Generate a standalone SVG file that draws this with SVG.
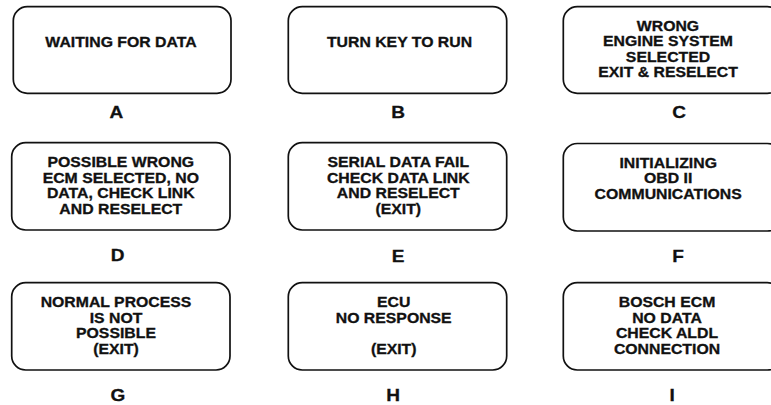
<svg xmlns="http://www.w3.org/2000/svg" width="771" height="405" viewBox="0 0 771 405">
<style>
.box{fill:#fff;stroke:#111;stroke-width:1.7}
.t{font-family:"Liberation Sans",Arial,sans-serif;font-weight:bold;font-size:14px;fill:#111;stroke:#111;stroke-width:0.3;text-anchor:middle}
.lbl{font-family:"Liberation Sans",Arial,sans-serif;font-weight:bold;font-size:17px;fill:#111;stroke:#111;stroke-width:0.3;text-anchor:middle}
</style>
<rect width="771" height="405" fill="#fff"/>
<g id="node-A">
<rect class="box" x="13.3" y="6.7" width="217.7" height="86.6" rx="14"/>
<text class="t" transform="matrix(1.13,0,0,1,121,0)"><tspan x="0" y="46.7">WAITING FOR DATA</tspan></text>
<text class="lbl" transform="matrix(1.12,0,0,1,116.3,0)" x="0" y="118.3">A</text>
</g>
<g id="node-B">
<rect class="box" x="288.3" y="6.7" width="218.4" height="86.6" rx="14"/>
<text class="t" transform="matrix(1.13,0,0,1,399.5,0)"><tspan x="0" y="46.7">TURN KEY TO RUN</tspan></text>
<text class="lbl" transform="matrix(1.12,0,0,1,398,0)" x="0" y="118.3">B</text>
</g>
<g id="node-C">
<rect class="box" x="563.3" y="6.7" width="218" height="86.6" rx="14"/>
<text class="t" transform="matrix(1.13,0,0,1,668,0)"><tspan x="0" y="31">WRONG</tspan><tspan x="0" y="46.5">ENGINE SYSTEM</tspan><tspan x="0" y="62">SELECTED</tspan><tspan x="0" y="77.5">EXIT &amp; RESELECT</tspan></text>
<text class="lbl" transform="matrix(1.12,0,0,1,679,0)" x="0" y="118.3">C</text>
</g>
<g id="node-D">
<rect class="box" x="11.7" y="142.7" width="218.3" height="87.3" rx="14"/>
<text class="t" transform="matrix(1.13,0,0,1,120.8,0)"><tspan x="0" y="167.3">POSSIBLE WRONG</tspan><tspan x="0" y="182.8">ECM SELECTED, NO</tspan><tspan x="0" y="198.3">DATA, CHECK LINK</tspan><tspan x="0" y="214">AND RESELECT</tspan></text>
<text class="lbl" transform="matrix(1.12,0,0,1,117.5,0)" x="0" y="261">D</text>
</g>
<g id="node-E">
<rect class="box" x="288.3" y="142.7" width="218.4" height="87.3" rx="14"/>
<text class="t" transform="matrix(1.13,0,0,1,398.3,0)"><tspan x="0" y="167.3">SERIAL DATA FAIL</tspan><tspan x="0" y="182.8">CHECK DATA LINK</tspan><tspan x="0" y="198.3">AND RESELECT</tspan><tspan x="0" y="214">(EXIT)</tspan></text>
<text class="lbl" transform="matrix(1.12,0,0,1,398,0)" x="0" y="262">E</text>
</g>
<g id="node-F">
<rect class="box" x="563.3" y="143.5" width="218" height="87.5" rx="14"/>
<text class="t" transform="matrix(1.13,0,0,1,668.2,0)"><tspan x="0" y="168.3">INITIALIZING</tspan><tspan x="0" y="183.5">OBD II</tspan><tspan x="0" y="199">COMMUNICATIONS</tspan></text>
<text class="lbl" transform="matrix(1.12,0,0,1,678,0)" x="0" y="262">F</text>
</g>
<g id="node-G">
<rect class="box" x="11.7" y="282.7" width="218.3" height="87.3" rx="14"/>
<text class="t" transform="matrix(1.13,0,0,1,116,0)"><tspan x="0" y="307.3">NORMAL PROCESS</tspan><tspan x="0" y="322.7">IS NOT</tspan><tspan x="0" y="338.3">POSSIBLE</tspan><tspan x="0" y="354">(EXIT)</tspan></text>
<text class="lbl" transform="matrix(1.12,0,0,1,117.8,0)" x="0" y="400.7">G</text>
</g>
<g id="node-H">
<rect class="box" x="288.3" y="282.7" width="218.4" height="87.3" rx="14"/>
<text class="t" transform="matrix(1.13,0,0,1,393.7,0)"><tspan x="0" y="307.3">ECU</tspan><tspan x="0" y="322.7">NO RESPONSE</tspan><tspan x="0" y="354">(EXIT)</tspan></text>
<text class="lbl" transform="matrix(1.12,0,0,1,393,0)" x="0" y="400.7">H</text>
</g>
<g id="node-I">
<rect class="box" x="563.3" y="282.7" width="218" height="87.3" rx="14"/>
<text class="t" transform="matrix(1.13,0,0,1,667,0)"><tspan x="0" y="307.3">BOSCH ECM</tspan><tspan x="0" y="322.7">NO DATA</tspan><tspan x="0" y="338.3">CHECK ALDL</tspan><tspan x="0" y="354">CONNECTION</tspan></text>
<text class="lbl" transform="matrix(1.12,0,0,1,672.2,0)" x="0" y="400.7">I</text>
</g>
</svg>
